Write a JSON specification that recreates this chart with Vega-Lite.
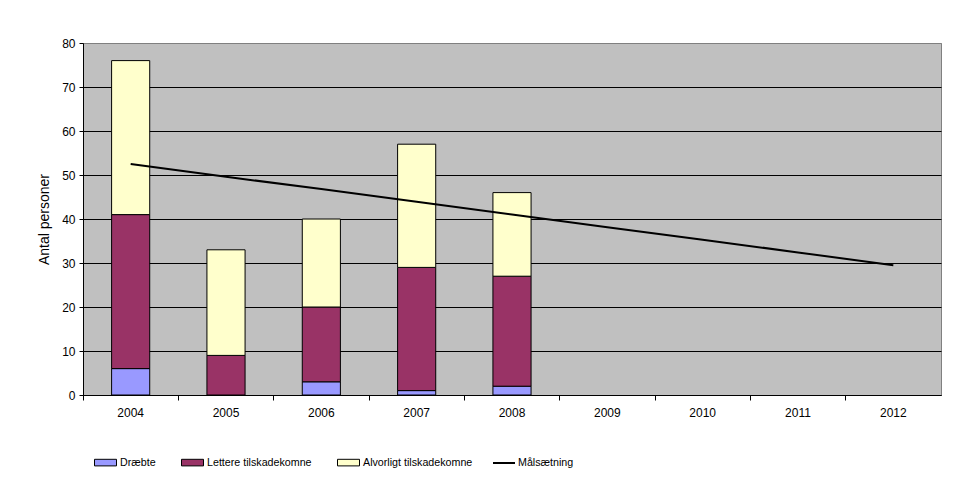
{
  "$schema": "https://vega.github.io/schema/vega-lite/v6.json",
  "width": 858,
  "height": 352,
  "autosize": {"type": "none"},
  "padding": {"left": 83, "top": 43, "right": 14, "bottom": 92},
  "background": "white",
  "config": {
    "font": "Liberation Sans",
    "view": {"fill": "#C0C0C0", "stroke": "#808080", "strokeWidth": 1},
    "axis": {
      "labelFont": "Liberation Sans",
      "labelFontSize": 12,
      "labelColor": "black",
      "domainColor": "black",
      "tickColor": "black",
      "titleFont": "Liberation Sans",
      "titleColor": "black",
      "titleFontWeight": "normal"
    }
  },
  "layer": [
    {
      "data": {
        "values": [
          {"year": "2004", "cat": "Dræbte", "rank": 1, "n": 6},
          {"year": "2004", "cat": "Lettere tilskadekomne", "rank": 2, "n": 35},
          {"year": "2004", "cat": "Alvorligt tilskadekomne", "rank": 3, "n": 35},
          {"year": "2005", "cat": "Lettere tilskadekomne", "rank": 2, "n": 9},
          {"year": "2005", "cat": "Alvorligt tilskadekomne", "rank": 3, "n": 24},
          {"year": "2006", "cat": "Dræbte", "rank": 1, "n": 3},
          {"year": "2006", "cat": "Lettere tilskadekomne", "rank": 2, "n": 17},
          {"year": "2006", "cat": "Alvorligt tilskadekomne", "rank": 3, "n": 20},
          {"year": "2007", "cat": "Dræbte", "rank": 1, "n": 1},
          {"year": "2007", "cat": "Lettere tilskadekomne", "rank": 2, "n": 28},
          {"year": "2007", "cat": "Alvorligt tilskadekomne", "rank": 3, "n": 28},
          {"year": "2008", "cat": "Dræbte", "rank": 1, "n": 2},
          {"year": "2008", "cat": "Lettere tilskadekomne", "rank": 2, "n": 25},
          {"year": "2008", "cat": "Alvorligt tilskadekomne", "rank": 3, "n": 19}
        ]
      },
      "mark": {"type": "bar", "width": {"band": 0.4}, "stroke": "black", "strokeWidth": 1},
      "encoding": {
        "x": {
          "field": "year",
          "type": "ordinal",
          "scale": {
            "domain": ["2004", "2005", "2006", "2007", "2008", "2009", "2010", "2011", "2012"],
            "paddingInner": 0,
            "paddingOuter": 0
          },
          "axis": {
            "title": null,
            "labelAngle": 0,
            "bandPosition": 0,
            "tickSize": 5,
            "labelPadding": 7,
            "grid": false
          }
        },
        "y": {
          "field": "n",
          "type": "quantitative",
          "stack": "zero",
          "scale": {"domain": [0, 80], "nice": false},
          "axis": {
            "title": "Antal personer",
            "titleFontSize": 14,
            "titlePadding": 10,
            "values": [0, 10, 20, 30, 40, 50, 60, 70, 80],
            "tickSize": 4,
            "labelPadding": 4,
            "grid": true,
            "gridColor": {"condition": {"test": "datum.value === 80", "value": "#808080"}, "value": "black"},
            "gridWidth": 1
          }
        },
        "fill": {
          "field": "cat",
          "type": "nominal",
          "scale": {
            "domain": ["Dræbte", "Lettere tilskadekomne", "Alvorligt tilskadekomne"],
            "range": ["#9999FF", "#993366", "#FFFFCC"]
          },
          "legend": {
            "orient": "none",
            "legendX": 11,
            "legendY": 408,
            "direction": "horizontal",
            "title": null,
            "padding": 0,
            "symbolType": "M-1,-0.3H1V0.3H-1Z",
            "symbolSize": 484,
            "symbolStrokeColor": "black",
            "symbolStrokeWidth": 1,
            "symbolOpacity": 1,
            "labelOffset": 3,
            "columnPadding": 23,
            "labelFont": "Liberation Sans",
            "labelFontSize": 10.7,
            "labelColor": "black"
          }
        },
        "order": {"field": "rank", "type": "quantitative"}
      }
    },
    {
      "data": {
        "values": [
          {"year": "2004", "serie": "Målsætning", "v": 52.5},
          {"year": "2005", "serie": "Målsætning", "v": 49.6},
          {"year": "2006", "serie": "Målsætning", "v": 46.8},
          {"year": "2007", "serie": "Målsætning", "v": 43.9},
          {"year": "2008", "serie": "Målsætning", "v": 41.0},
          {"year": "2009", "serie": "Målsætning", "v": 38.1},
          {"year": "2010", "serie": "Målsætning", "v": 35.3},
          {"year": "2011", "serie": "Målsætning", "v": 32.4},
          {"year": "2012", "serie": "Målsætning", "v": 29.5}
        ]
      },
      "mark": {"type": "line", "strokeWidth": 2},
      "encoding": {
        "x": {"field": "year", "type": "ordinal"},
        "y": {"field": "v", "type": "quantitative"},
        "stroke": {
          "field": "serie",
          "type": "nominal",
          "scale": {"range": ["black"]},
          "legend": {
            "orient": "none",
            "legendX": 409,
            "legendY": 408,
            "title": null,
            "padding": 0,
            "symbolType": "stroke",
            "symbolSize": 484,
            "symbolStrokeWidth": 2,
            "symbolStrokeColor": "black",
            "labelOffset": 2,
            "labelFont": "Liberation Sans",
            "labelFontSize": 10.7,
            "labelColor": "black"
          }
        }
      }
    }
  ]
}
